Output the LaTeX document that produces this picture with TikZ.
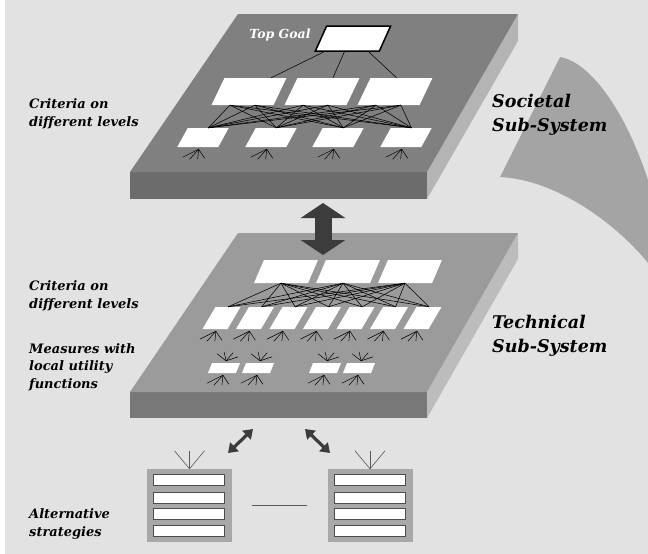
\documentclass[tikz,border=0pt]{standalone}
\usepackage{fontspec}
\setmainfont{DejaVu Serif}
\usepackage{tikz}
\usetikzlibrary{arrows.meta,positioning,calc}

\definecolor{bgcol}{HTML}{E2E2E2}
\definecolor{uptop}{HTML}{808080}
\definecolor{upfront}{HTML}{6C6C6C}
\definecolor{upside}{HTML}{B4B4B4}
\definecolor{lotop}{HTML}{9B9B9B}
\definecolor{lofront}{HTML}{787878}
\definecolor{loside}{HTML}{BCBCBC}
\definecolor{fincol}{HTML}{A4A4A4}
\definecolor{arrowcol}{HTML}{3C3C3C}
\definecolor{altcol}{HTML}{A8A8A8}

\newcommand{\fandown}[1]{%
  \foreach \dx/\dy in {-16/8,-9/10,-1/10,6/9}
    {\draw[fan] ($(#1.south)+(1,2)$) -- ++(\dx,\dy);}}
\newcommand{\fanup}[1]{%
  \foreach \dx/\dy in {-9/-7,-2/-9,7/-8,12/-4}
    {\draw[fan] ($(#1.north)+(0,-2)$) -- ++(\dx,\dy);}}

\begin{document}
\begin{tikzpicture}[x=1pt, y=-1pt,
    box/.style={rectangle, fill=white, inner sep=0pt},
    goalbox/.style={box, draw, line width=1.5pt, minimum width=64pt, minimum height=25pt, xslant=0.45},
    critA/.style={box, minimum width=62pt, minimum height=27pt, xslant=0.48},
    critB/.style={box, minimum width=41pt, minimum height=19pt, xslant=0.55},
    critC/.style={box, minimum width=54pt, minimum height=23pt, xslant=0.43},
    critD/.style={box, minimum width=25pt, minimum height=22pt, xslant=0.59},
    measbox/.style={box, minimum width=28pt, minimum height=10pt, xslant=0.4},
    altbg/.style={rectangle, fill=altcol, minimum width=85pt, minimum height=73pt, inner sep=0pt},
    bar/.style={box, draw=black!70, line width=0.6pt, minimum width=71pt, minimum height=11pt},
    link/.style={black, line width=0.55pt},
    fan/.style={black, line width=0.5pt},
    yfan/.style={black!65, line width=0.6pt},
    bigarrow/.style={arrowcol, line width=17pt, {Triangle[length=15pt,width=44pt]}-{Triangle[length=15pt,width=44pt]}},
    smallarrow/.style={arrowcol, line width=3.2pt, {Triangle[length=9pt,width=12pt]}-{Triangle[length=9pt,width=12pt]}},
    lbl/.style={font=\bfseries\itshape\fontsize{13}{17.5}\selectfont, align=left, anchor=west, inner sep=0pt},
    sys/.style={font=\bfseries\itshape\fontsize{17.5}{24}\selectfont, align=left, anchor=west, inner sep=0pt}
]
\useasboundingbox (0,0) rectangle (648,554);
\fill[white] (0,0) rectangle (648,554);
\fill[bgcol] (5,0) rectangle (648,554);

% fin on the right
\fill[fincol] (560,57) .. controls (590,62) and (625,110) .. (648,180) -- (648,263)
  .. controls (620,228) and (560,180) .. (500,177) -- cycle;

% societal platform
\fill[upside] (518,14) -- (518,41) -- (427,199) -- (427,172) -- cycle;
\fill[upfront] (130,172) rectangle (427,199);
\fill[uptop] (238,14) -- (518,14) -- (427,172) -- (130,172) -- cycle;

% technical platform
\fill[loside] (518,233) -- (518,259) -- (427,418) -- (427,392) -- cycle;
\fill[lofront] (130,392) rectangle (427,418);
\fill[lotop] (238,233) -- (518,233) -- (427,392) -- (130,392) -- cycle;

% link between the sub-systems
\coordinate (bigtop) at (323,203);
\coordinate (bigbot) at (323,255);
\draw[bigarrow] (bigtop) -- (bigbot);

% societal hierarchy
\node[goalbox] (goal) at (353,38.5) {};
\node[font=\bfseries\itshape\fontsize{12.5}{15}\selectfont, text=white, inner sep=0pt] (goallbl) at (280,35.5) {Top Goal};
\foreach \n/\x in {1/249,2/322,3/395}
  {\node[critA] (u2\n) at (\x,91.5) {};}
\foreach \n/\x in {1/203,2/271,3/338,4/406}
  {\node[critB] (u3\n) at (\x,137.5) {};}

\draw[link] ($(goal.south west)!0.15!(goal.south east)$) -- ($(u21.north west)!0.75!(u21.north east)$);
\draw[link] ($(goal.south west)!0.46!(goal.south east)$) -- ($(u22.north west)!0.57!(u22.north east)$);
\draw[link] ($(goal.south west)!0.83!(goal.south east)$) -- ($(u23.north west)!0.42!(u23.north east)$);
\foreach \i in {1,2,3}
  {\foreach \j in {1,...,4}
    {\draw[link] ($(u2\i.south west)!0.3!(u2\i.south east)$) -- (u3\j.north);
     \draw[link] ($(u2\i.south west)!0.7!(u2\i.south east)$) -- (u3\j.north);}}
\foreach \j in {1,...,4}
  {\fandown{u3\j}}

% technical hierarchy
\foreach \n/\x in {1/286,2/348,3/410}
  {\node[critC] (l1\n) at (\x,271.5) {};}
\foreach \n in {1,...,7}
  {\node[critD] (l2\n) at ({188+33.5*\n},318) {};}
\foreach \n/\x in {1/224,2/258,3/325,4/359}
  {\node[measbox] (m\n) at (\x,368) {};}

\foreach \i in {1,2,3}
  {\foreach \j in {1,...,7}
    {\draw[link] (l1\i.south) -- (l2\j.north);}}
\foreach \j in {1,...,7}
  {\fandown{l2\j}}
\foreach \j in {1,...,4}
  {\fanup{m\j}
   \fandown{m\j}}

% alternative strategies
\node[altbg] (altL) at (189.5,505.5) {};
\node[altbg] (altR) at (370,505.5) {};
\foreach \k/\yy in {1/480,2/497.5,3/513.5,4/530.5}
  {\node[bar] (aL\k) at (188.5,\yy) {};
   \node[bar] (aR\k) at (370,\yy) {};}
\foreach \dx in {-15,0,15}
  {\draw[yfan] (altL.north) -- ++(\dx,-18);
   \draw[yfan] (altR.north) -- ++(\dx,-18);}
\draw[black!65, line width=0.7pt] ([xshift=20pt]altL.east) -- ([xshift=-20pt]altR.west);

\coordinate (alA) at (228,453);
\coordinate (alB) at (253,429);
\coordinate (arA) at (305,429);
\coordinate (arB) at (330,453);
\draw[smallarrow] (alA) -- (alB);
\draw[smallarrow] (arA) -- (arB);

% labels
\node[lbl] (crit1) at (29,114) {Criteria on\\different levels};
\node[sys] (soc) at (492,115) {Societal\\Sub-System};
\node[lbl] (crit2) at (29,296) {Criteria on\\different levels};
\node[sys] (tech) at (492,336) {Technical\\Sub-System};
\node[lbl] (meas) at (29,367) {Measures with\\local utility\\functions};
\node[lbl] (alts) at (29,524) {Alternative\\strategies};
\end{tikzpicture}
\end{document}
